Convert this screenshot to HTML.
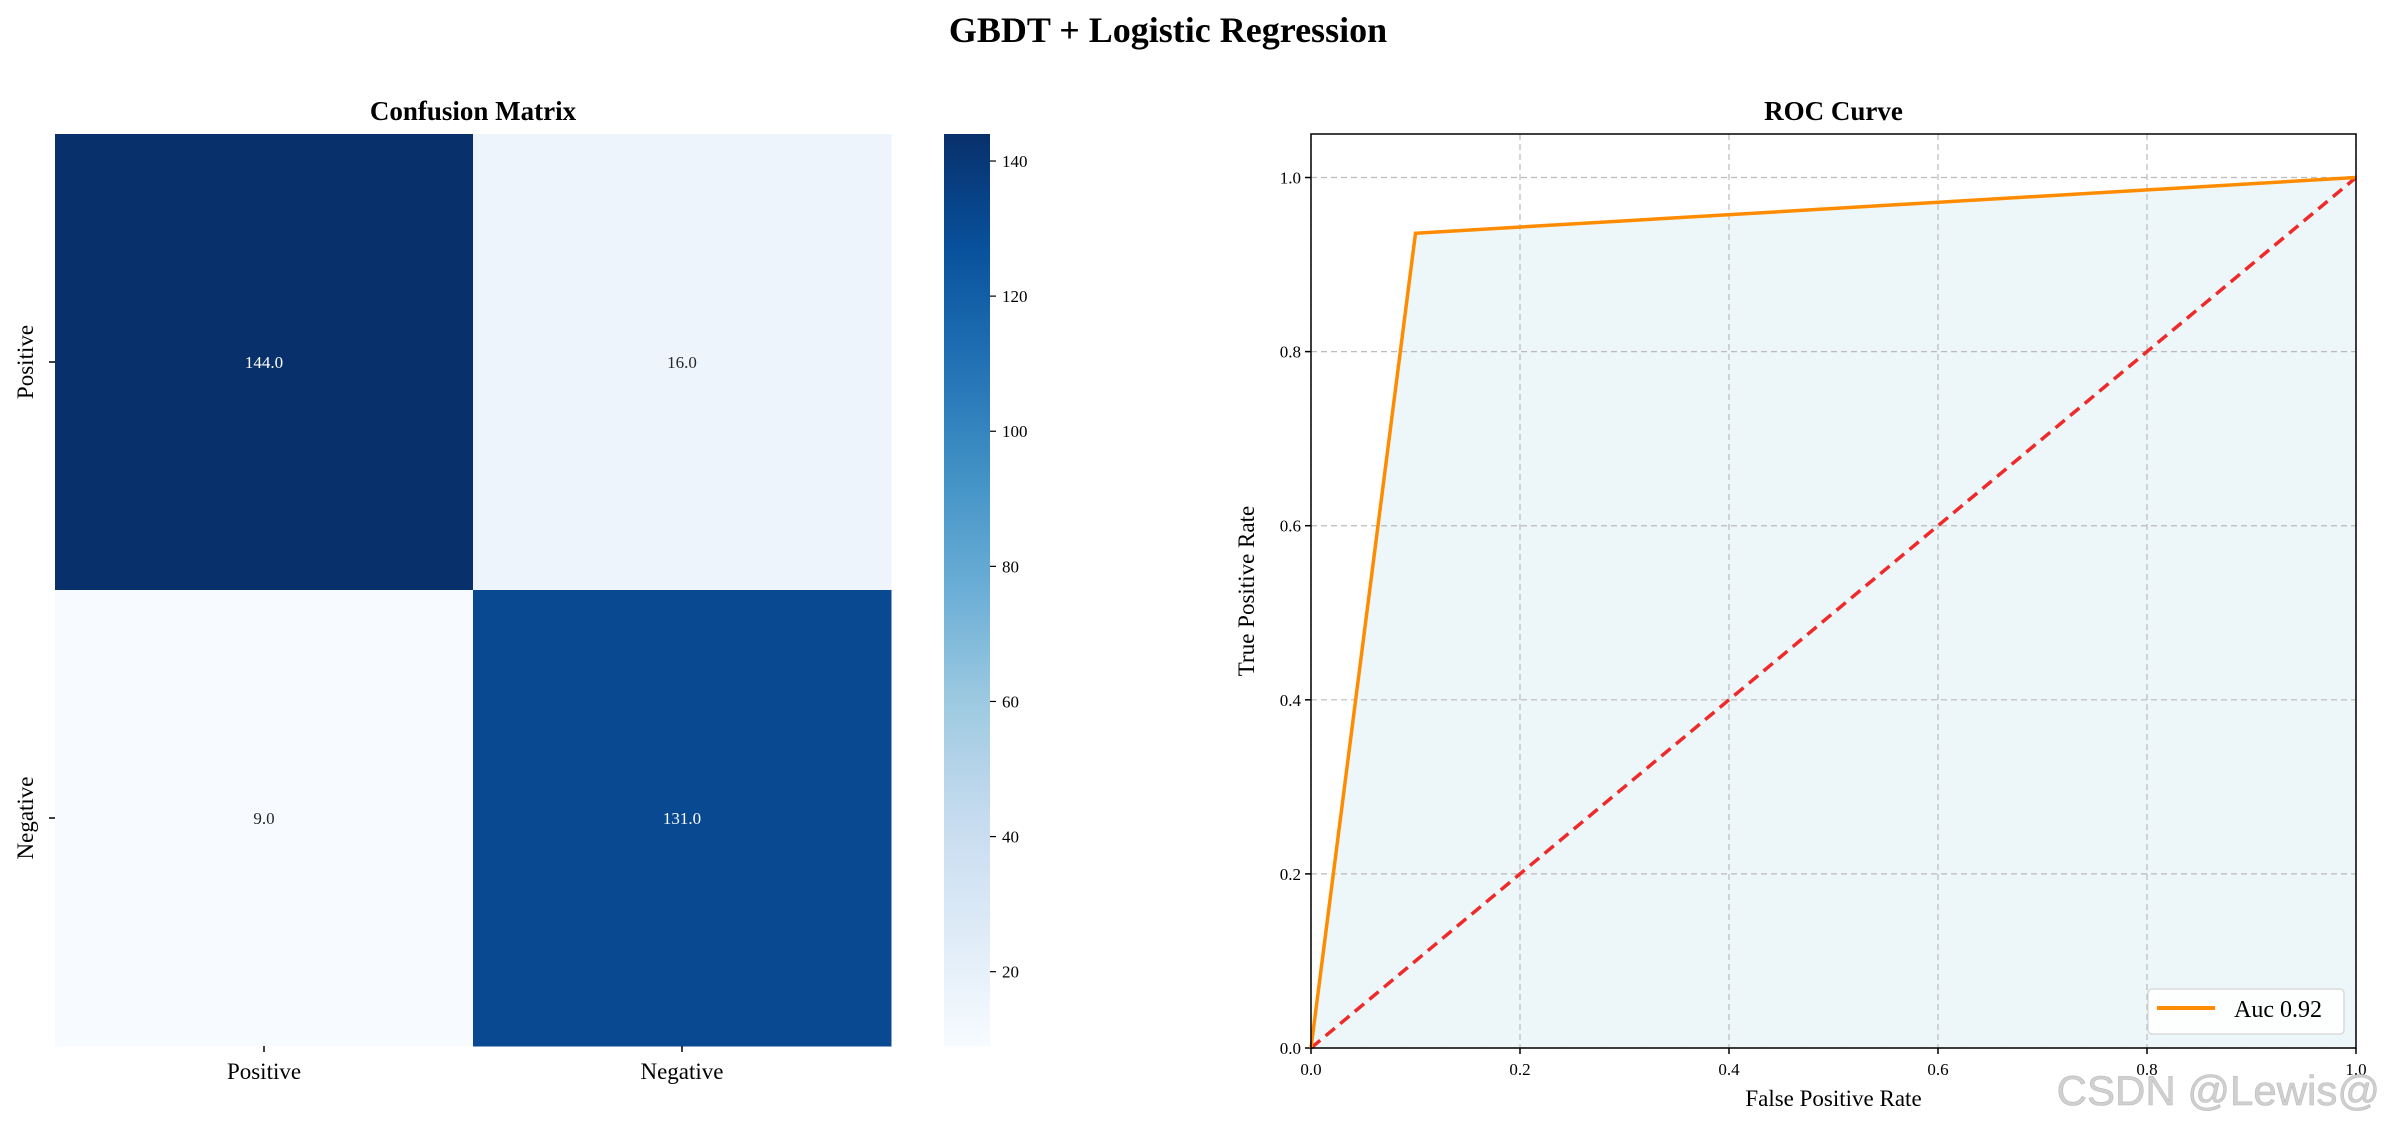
<!DOCTYPE html>
<html><head><meta charset="utf-8"><style>
html,body{margin:0;padding:0;background:#fff;}
svg{display:block;font-family:"Liberation Serif",serif;}
</style></head><body>
<svg id="fig" width="2384" height="1130" viewBox="0 0 2384 1130" xmlns="http://www.w3.org/2000/svg">
<defs>
<linearGradient id="blues" x1="0" y1="1" x2="0" y2="0">
<stop offset="0" stop-color="#f7fbff"/><stop offset="0.125" stop-color="#deebf7"/><stop offset="0.25" stop-color="#c6dbef"/><stop offset="0.375" stop-color="#9ecae1"/><stop offset="0.5" stop-color="#6baed6"/><stop offset="0.625" stop-color="#4292c6"/><stop offset="0.75" stop-color="#2171b5"/><stop offset="0.875" stop-color="#08519c"/><stop offset="1" stop-color="#08306b"/>
</linearGradient>
</defs>
<text x="1168" y="42" text-anchor="middle" font-size="36" font-weight="bold">GBDT + Logistic Regression</text>
<g id="cm"></g>
<g id="roc"></g>
<text x="2380" y="1105" text-anchor="end" font-family="Liberation Sans, sans-serif" font-size="42" fill="#d0d0d0" stroke="#bbb" stroke-width="0.6">CSDN @Lewis@</text>
</svg>
<script>
const NS="http://www.w3.org/2000/svg";
// confusion matrix data
const cmLabels=["Positive","Negative"];
const cmValues=[[144,16],[9,131]];
const cbTicks=[20,40,60,80,100,120,140];
// ROC data
const rocFpr=[0,0.1,1];
const rocTpr=[0,0.936,1];
const diagX=[0,1];
const diagY=[0,1];
const rocTicks=[0,0.2,0.4,0.6,0.8,1.0];
const aucLabel="Auc 0.92";

function el(tag,attrs,parent,txt){const e=document.createElementNS(NS,tag);for(const k in attrs)e.setAttribute(k,attrs[k]);if(txt!==undefined)e.textContent=txt;parent.appendChild(e);return e;}
const stops=[[247,251,255],[222,235,247],[198,219,239],[158,202,225],[107,174,214],[66,146,198],[33,113,181],[8,81,156],[8,48,107]];
function blues(t){t=Math.max(0,Math.min(1,t));const p=t*8,i=Math.min(7,Math.floor(p)),f=p-i;const a=stops[i],b=stops[i+1];return `rgb(${a.map((v,k)=>Math.round(v+(b[k]-v)*f)).join(",")})`;}

// Confusion matrix
const cm=document.getElementById("cm");
const hx0=55,hx1=891,hy0=134,hy1=1046;
const flat=cmValues.flat();const vmin=Math.min(...flat),vmax=Math.max(...flat);
const cw=(hx1-hx0)/cmLabels.length,ch=(hy1-hy0)/cmLabels.length;
cmValues.forEach((row,r)=>row.forEach((v,c)=>{
  const t=(v-vmin)/(vmax-vmin);
  const rc=el("rect",{x:hx0+c*cw,y:hy0+r*ch,width:cw+0.5,height:ch+0.5,fill:blues(t)},cm);
  
  
  const tx=el("text",{x:hx0+(c+0.5)*cw,y:hy0+(r+0.5)*ch+6,"text-anchor":"middle","font-size":17,fill:t>0.5?"#fff":"#262626"},cm,v.toFixed(1));
  
  
}));
cmLabels.forEach((l,i)=>{
  const x=hx0+(i+0.5)*cw;
  el("line",{x1:x,y1:hy1,x2:x,y2:hy1+6,stroke:"#000","stroke-width":1.5},cm);
  const t=el("text",{x:x,y:hy1+33,"text-anchor":"middle","font-size":23},cm,l);
  
  
  const y=hy0+(i+0.5)*ch;
  el("line",{x1:hx0-6,y1:y,x2:hx0,y2:y,stroke:"#000","stroke-width":1.5},cm);
  const t2=el("text",{x:0,y:0,"text-anchor":"middle","font-size":23,transform:`translate(33,${y}) rotate(-90)`},cm,l);
  
  
});
const ct=el("text",{x:(hx0+hx1)/2,y:120,"text-anchor":"middle","font-size":27,"font-weight":"bold"},cm,"Confusion Matrix");


// colorbar
const cbx0=944,cbx1=990;
const cb=el("rect",{x:cbx0,y:hy0,width:cbx1-cbx0,height:hy1-hy0,fill:"url(#blues)"},cm);


const cbY=v=>hy1-(v-vmin)/(vmax-vmin)*(hy1-hy0);
cbTicks.forEach(v=>{
  const y=cbY(v);
  el("line",{x1:cbx1,y1:y,x2:cbx1+6,y2:y,stroke:"#000","stroke-width":1.2},cm);
  const t=el("text",{x:cbx1+12,y:y+6,"font-size":17},cm,String(v));
  
  
});

// ROC
const roc=document.getElementById("roc");
const rx0=1311,rx1=2356,ry0=134,ry1=1048;
const xS=v=>rx0+v*(rx1-rx0);
const yS=v=>ry1-v/1.05*(ry1-ry0);
const fillPts=rocFpr.map((f,i)=>`${xS(f)},${yS(rocTpr[i])}`).join(" ")+` ${xS(1)},${yS(0)}`;
const fa=el("polygon",{points:fillPts,fill:"#edf6f9"},roc);


rocTicks.forEach(v=>{
  el("line",{x1:xS(v),y1:ry0,x2:xS(v),y2:ry1,stroke:"#bbb","stroke-width":1.2,"stroke-dasharray":"6 4"},roc);
  el("line",{x1:rx0,y1:yS(v),x2:rx1,y2:yS(v),stroke:"#bbb","stroke-width":1.2,"stroke-dasharray":"6 4"},roc);
  el("line",{x1:xS(v),y1:ry1,x2:xS(v),y2:ry1+6,stroke:"#000","stroke-width":1.5},roc);
  el("line",{x1:rx0-6,y1:yS(v),x2:rx0,y2:yS(v),stroke:"#000","stroke-width":1.5},roc);
  const tx=el("text",{x:xS(v),y:ry1+27,"text-anchor":"middle","font-size":17},roc,v.toFixed(1));
  
  
  const ty=el("text",{x:rx0-10,y:yS(v)+6,"text-anchor":"end","font-size":17},roc,v.toFixed(1));
  
  
});
const dl=el("polyline",{points:diagX.map((x,i)=>`${xS(x)},${yS(diagY[i])}`).join(" "),fill:"none",stroke:"#ee2a2a","stroke-width":3.5,"stroke-dasharray":"12 7"},roc);


const rl=el("polyline",{points:rocFpr.map((x,i)=>`${xS(x)},${yS(rocTpr[i])}`).join(" "),fill:"none",stroke:"#ff8c00","stroke-width":3.5},roc);


el("rect",{x:rx0,y:ry0,width:rx1-rx0,height:ry1-ry0,fill:"none",stroke:"#000","stroke-width":1.5},roc);
const lg=el("g",{},roc);


el("rect",{x:2148,y:989,width:196,height:45,rx:4,fill:"#fdfefe",stroke:"#d5d5d5","stroke-width":1.3},lg);
el("line",{x1:2157,y1:1008,x2:2215,y2:1008,stroke:"#ff8c00","stroke-width":4},lg);
const lt=el("text",{x:2234,y:1017,"font-size":24},lg,aucLabel);


const rt=el("text",{x:(rx0+rx1)/2,y:120,"text-anchor":"middle","font-size":27,"font-weight":"bold"},roc,"ROC Curve");


const xl=el("text",{x:(rx0+rx1)/2,y:1106,"text-anchor":"middle","font-size":23},roc,"False Positive Rate");


const yl=el("text",{x:0,y:0,"text-anchor":"middle","font-size":23,transform:`translate(1254,${(ry0+ry1)/2}) rotate(-90)`},roc,"True Positive Rate");


</script>
</body></html>
